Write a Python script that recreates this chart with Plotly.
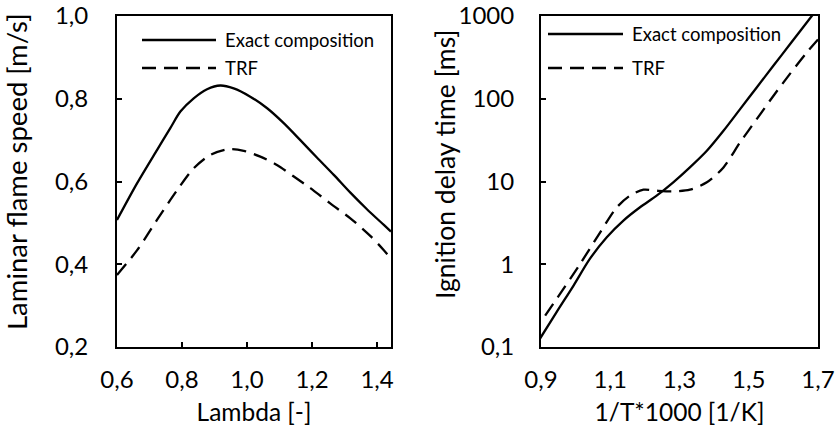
import plotly.graph_objects as go

# ---- data: laminar flame speed ----
lam_exact_x = [0.600, 0.662, 0.723, 0.764, 0.795, 0.836, 0.877, 0.918, 0.959, 1.010, 1.062, 1.113,
               1.164, 1.215, 1.267, 1.318, 1.369, 1.421, 1.443]
lam_exact_y = [0.507, 0.596, 0.676, 0.729, 0.769, 0.801, 0.823, 0.832, 0.825, 0.805, 0.777, 0.741,
               0.700, 0.658, 0.616, 0.573, 0.533, 0.495, 0.479]
lam_trf_x = [0.600, 0.662, 0.723, 0.785, 0.836, 0.887, 0.944, 0.990, 1.041, 1.092, 1.144, 1.195,
             1.256, 1.318, 1.380, 1.421, 1.443]
lam_trf_y = [0.374, 0.434, 0.507, 0.579, 0.632, 0.664, 0.678, 0.674, 0.660, 0.640, 0.612, 0.584,
             0.547, 0.511, 0.468, 0.434, 0.414]

# ---- data: ignition delay ----
idt_exact_x = [0.897, 0.945, 0.994, 1.041, 1.090, 1.138, 1.186, 1.234, 1.282, 1.330, 1.379, 1.427,
               1.475, 1.523, 1.571, 1.619, 1.682, 1.700]
idt_exact_y = [0.126, 0.264, 0.553, 1.16, 2.12, 3.37, 4.88, 6.74, 9.77, 14.8, 23.5, 41,
               74.9, 137, 250, 455, 1000, 1250]
idt_trf_x = [0.912, 0.955, 1.013, 1.071, 1.119, 1.157, 1.196, 1.234, 1.282, 1.330, 1.379, 1.427,
             1.475, 1.523, 1.571, 1.619, 1.667, 1.700]
idt_trf_y = [0.240, 0.438, 1.01, 2.43, 4.88, 6.74, 7.96, 7.74, 7.60, 7.96, 9.77, 14.8,
             29.7, 56.7, 108, 200, 360, 520]

lam_ticks = [0.6, 0.8, 1.0, 1.2, 1.4]
lam_ticktext = ["0,6", "0,8", "1,0", "1,2", "1,4"]
sl_ticks = [0.2, 0.4, 0.6, 0.8, 1.0]
sl_ticktext = ["0,2", "0,4", "0,6", "0,8", "1,0"]
invT_ticks = [0.9, 1.1, 1.3, 1.5, 1.7]
invT_ticktext = ["0,9", "1,1", "1,3", "1,5", "1,7"]
idt_ticks = [0.1, 1, 10, 100, 1000]
idt_ticktext = ["0,1", "1", "10", "100", "1000"]
legend_names = ["Exact composition", "TRF"]

FONT = "Lato"
DASH = "14px,8px"
LW = 2.3

fig = go.Figure()
fig.add_trace(go.Scatter(x=lam_exact_x, y=lam_exact_y, mode="lines",
                         line=dict(color="black", width=LW, shape="spline", smoothing=0.8),
                         xaxis="x", yaxis="y", showlegend=False))
fig.add_trace(go.Scatter(x=lam_trf_x, y=lam_trf_y, mode="lines",
                         line=dict(color="black", width=LW, dash=DASH, shape="spline", smoothing=0.8),
                         xaxis="x", yaxis="y", showlegend=False))
fig.add_trace(go.Scatter(x=idt_exact_x, y=idt_exact_y, mode="lines",
                         line=dict(color="black", width=LW, shape="spline", smoothing=0.8),
                         xaxis="x2", yaxis="y2", showlegend=False))
fig.add_trace(go.Scatter(x=idt_trf_x, y=idt_trf_y, mode="lines",
                         line=dict(color="black", width=LW, dash=DASH, shape="spline", smoothing=0.8),
                         xaxis="x2", yaxis="y2", showlegend=False))

axcommon = dict(showgrid=False, zeroline=False, showline=True, linecolor="black", linewidth=2,
                mirror=True, ticklen=5, tickwidth=1.5, tickcolor="black",
                automargin=False,
                tickfont=dict(family=FONT, size=24, color="black"))

fig.update_layout(
    width=839, height=426,
    margin=dict(l=0, r=0, t=0, b=0),
    paper_bgcolor="white", plot_bgcolor="white",
    font=dict(family=FONT, color="black"),
    xaxis=dict(domain=[117/839, 391/839], range=[0.6, 1.443], tickvals=lam_ticks, ticktext=lam_ticktext,
               title=dict(text="Lambda [-]", font=dict(family=FONT, size=24.5), standoff=14),
               ticks="inside", ticklabelstandoff=10, anchor="y", **axcommon),
    yaxis=dict(domain=[1-347/426, 1-16/426], range=[0.2, 1.0], tickvals=sl_ticks, ticktext=sl_ticktext,
               ticks="inside", ticklabelstandoff=22, anchor="x", **axcommon),
    xaxis2=dict(domain=[541/839, 818/839], range=[0.9, 1.7], tickvals=invT_ticks, ticktext=invT_ticktext,
                title=dict(text="1/T*1000 [1/K]", font=dict(family=FONT, size=24.5), standoff=14),
                ticks="", ticklabelstandoff=10, anchor="y2", **axcommon),
    yaxis2=dict(domain=[1-347/426, 1-16/426], type="log", range=[-1, 3], tickvals=idt_ticks, ticktext=idt_ticktext,
                ticks="inside", ticklabelstandoff=20, anchor="x2", **axcommon),
)

# y-axis titles
fig.add_annotation(xref="paper", yref="paper", x=16/839, y=1-172/426, text="Laminar flame speed [m/s]",
                   textangle=-90, showarrow=False, xanchor="center", yanchor="middle",
                   font=dict(family=FONT, size=27.5, color="black"))
fig.add_annotation(xref="paper", yref="paper", x=445/839, y=1-165/426, text="Ignition delay time [ms]",
                   textangle=-90, showarrow=False, xanchor="center", yanchor="middle",
                   font=dict(family=FONT, size=26.5, color="black"))

# custom legends (sample line + label) inside each panel
def add_legend(xref, yref, x0, x1, xt, ys):
    for i, (name, y) in enumerate(zip(legend_names, ys)):
        fig.add_shape(type="line", xref=xref, yref=yref, x0=x0, x1=x1, y0=y, y1=y,
                      line=dict(color="black", width=LW, dash=None if i == 0 else DASH))
        fig.add_annotation(xref=xref, yref=yref, x=xt, y=y, text=name, showarrow=False,
                           xanchor="left", yanchor="middle", font=dict(family=FONT, size=18.5, color="black"))

add_legend("x domain", "y domain", (142-117)/274, (216-117)/274, (223-117)/274, [(347-40)/331, (347-68)/331])
add_legend("x2 domain", "y2 domain", (548-541)/277, (623-541)/277, (630-541)/277, [(347-34)/331, (347-68)/331])

fig.write_html("out.html")
